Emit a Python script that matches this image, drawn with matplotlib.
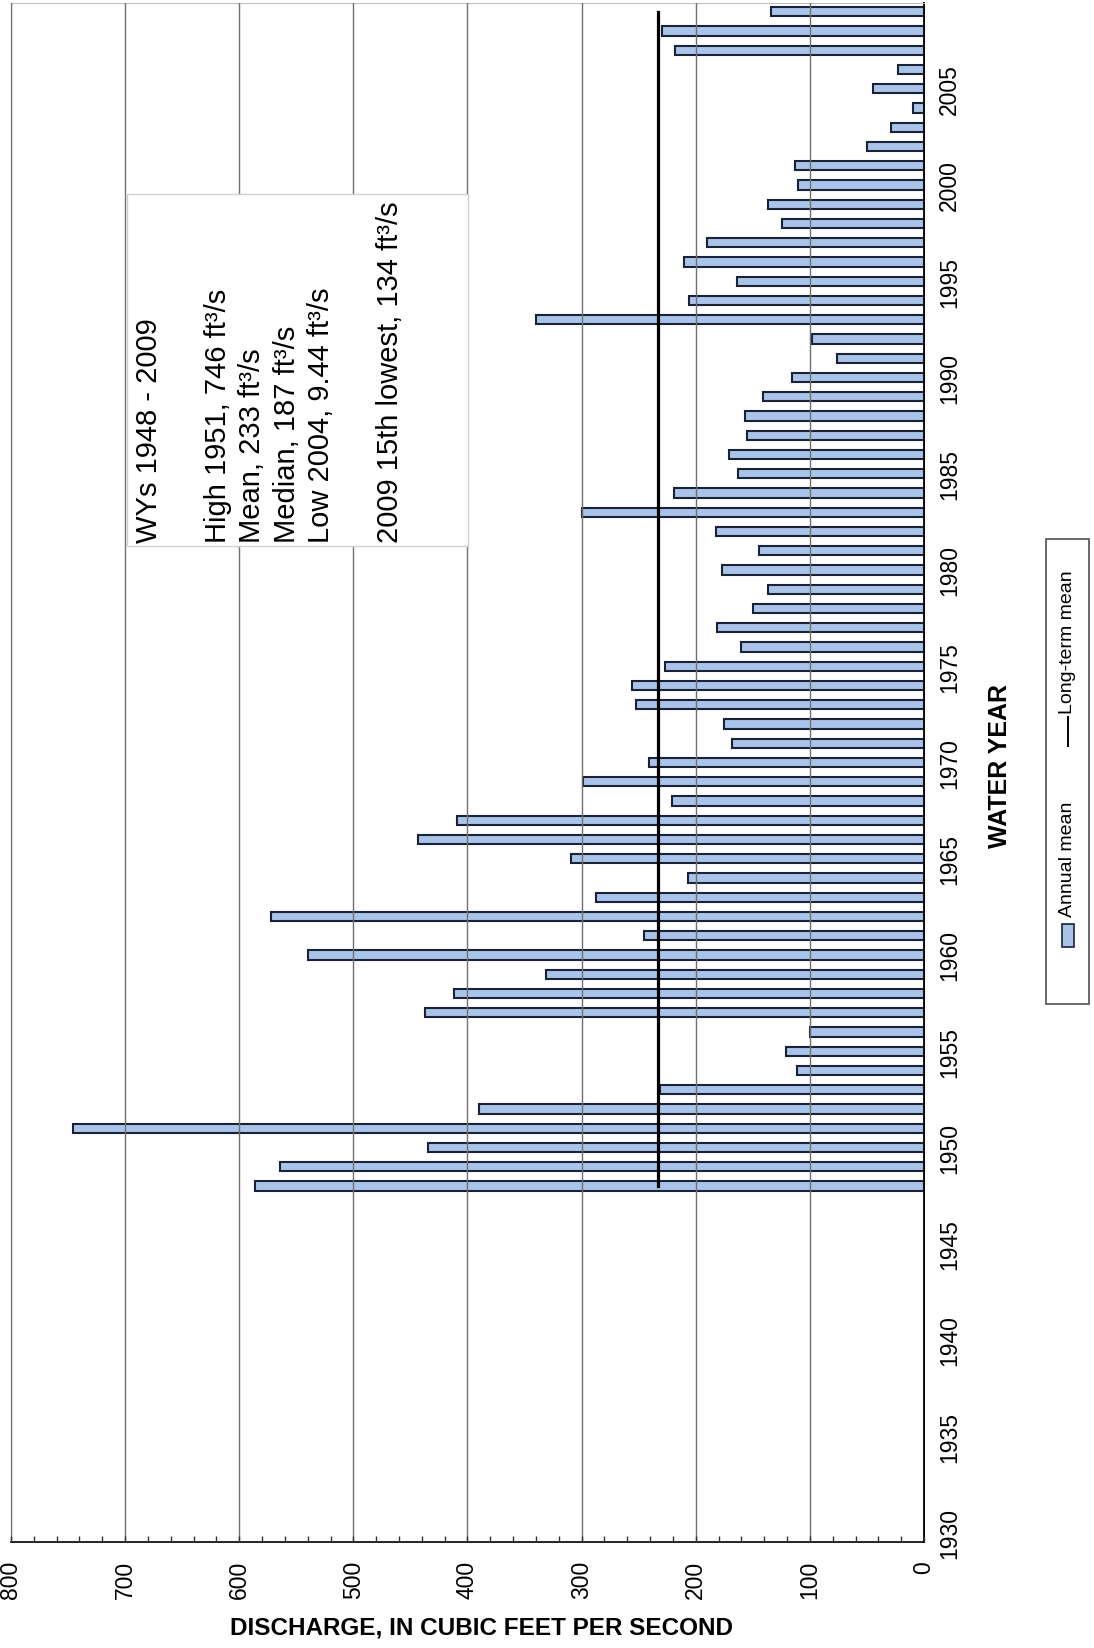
import numpy as np
import matplotlib
matplotlib.use("Agg")
import matplotlib.pyplot as plt
from matplotlib.patches import Rectangle
from matplotlib.lines import Line2D

plt.rcParams['font.family'] = ['Liberation Sans', 'DejaVu Sans']

# annual mean discharge, water years 1948-2009 (ft3/s)
water_years = np.arange(1948, 2010)
annual_mean = [
    586, 564, 435, 746, 390, 231, 111, 121, 100, 437,   # 1948-1957
    412, 331, 540, 245, 572, 287, 207, 309, 443, 409,   # 1958-1967
    221, 299, 241, 168, 175, 252, 256, 227, 160, 181,   # 1968-1977
    150, 137, 177, 145, 182, 300, 219, 163, 171, 155,   # 1978-1987
    157, 141, 116, 76, 98, 340, 206, 164, 210, 190,     # 1988-1997
    124, 137, 110, 113, 50, 29, 9.44, 45, 23, 218,      # 1998-2007
    230, 134,                                           # 2008-2009
]
long_term_mean = 233

discharge_ticks = np.arange(0, 801, 100)
year_ticks = np.arange(1930, 2006, 5)

stats_text = ("WYs 1948 - 2009\n\n"
              "High 1951, 746 ft\u00b3/s\n"
              "Mean, 233 ft\u00b3/s\n"
              "Median, 187 ft\u00b3/s\n"
              "Low 2004, 9.44 ft\u00b3/s\n\n"
              "2009 15th lowest, 134 ft\u00b3/s")

bar_fill = '#a9c4e8'
bar_edge = '#1a2238'

W, H = 1094, 1649
fig = plt.figure(figsize=(W / 100, H / 100), dpi=100)
ax = fig.add_axes([11 / W, 1 - 1543 / H, 913 / W, 1539 / H])

ax.barh(water_years, annual_mean, height=0.48, color=bar_fill,
        edgecolor=bar_edge, linewidth=1.5, zorder=1)
ax.plot([long_term_mean] * len(water_years), water_years,
        color='black', lw=2.3, zorder=4)

ax.set_xlim(800, 0)
ax.set_ylim(1929.5, 2009.45)

ax.set_xticks(discharge_ticks)
ax.set_xticks(np.arange(0, 801, 20), minor=True)
ax.tick_params(axis='x', which='both', direction='in', length=4.5,
               width=1, color='#333333')
ax.tick_params(axis='x', which='major', labelrotation=90, labelsize=16.5, pad=13)
ax.xaxis.grid(True, which='major', color='#707070', lw=1.0)
ax.set_axisbelow(False)

ax.yaxis.tick_right()
ax.set_yticks(year_ticks)
ax.tick_params(axis='y', length=0, labelrotation=90, labelsize=16.5, pad=10)
for lab in ax.get_yticklabels():
    lab.set_verticalalignment('center')

ax.spines['top'].set_color('#c0c0c0')
ax.spines['left'].set_color('#404040')
ax.spines['right'].set_linewidth(1.4)
ax.spines['bottom'].set_linewidth(1.2)

# statistics box
ax.add_patch(Rectangle((0.127, 0.647), 0.3735, 0.229, transform=ax.transAxes,
                       facecolor='white', edgecolor='#d0d0d0', lw=1, zorder=3))
ax.text(0.136, 0.650, stats_text, transform=ax.transAxes, rotation=90,
        ha='left', va='bottom', multialignment='left', fontsize=21,
        linespacing=1.29, zorder=5)

fig.text(481 / W, 1 - 1628 / H, 'DISCHARGE, IN CUBIC FEET PER SECOND',
         ha='center', va='center', fontsize=17.5, fontweight='bold')
fig.text(1000 / W, 1 - 766 / H, 'WATER YEAR', rotation=90, ha='center',
         va='center', fontsize=18, fontweight='bold')

# legend drawn upright along the right edge
fig.add_artist(Rectangle((1046 / W, 1 - 1005 / H), 43 / W, 465 / H,
                         transform=fig.transFigure, facecolor='white',
                         edgecolor='#505050', lw=1.2))
fig.add_artist(Rectangle((1062 / W, 1 - 948 / H), 12 / W, 23 / H,
                         transform=fig.transFigure, facecolor=bar_fill,
                         edgecolor=bar_edge, lw=1.2))
fig.add_artist(Line2D([1068 / W, 1068 / W], [1 - 747 / H, 1 - 718 / H],
                      transform=fig.transFigure, color='black', lw=1.4))
fig.text(1068 / W, 1 - 917 / H, 'Annual mean', rotation=90, ha='center',
         va='bottom', fontsize=14)
fig.text(1068 / W, 1 - 714 / H, 'Long-term mean', rotation=90, ha='center',
         va='bottom', fontsize=14)

fig.savefig('out.png', dpi=100)
